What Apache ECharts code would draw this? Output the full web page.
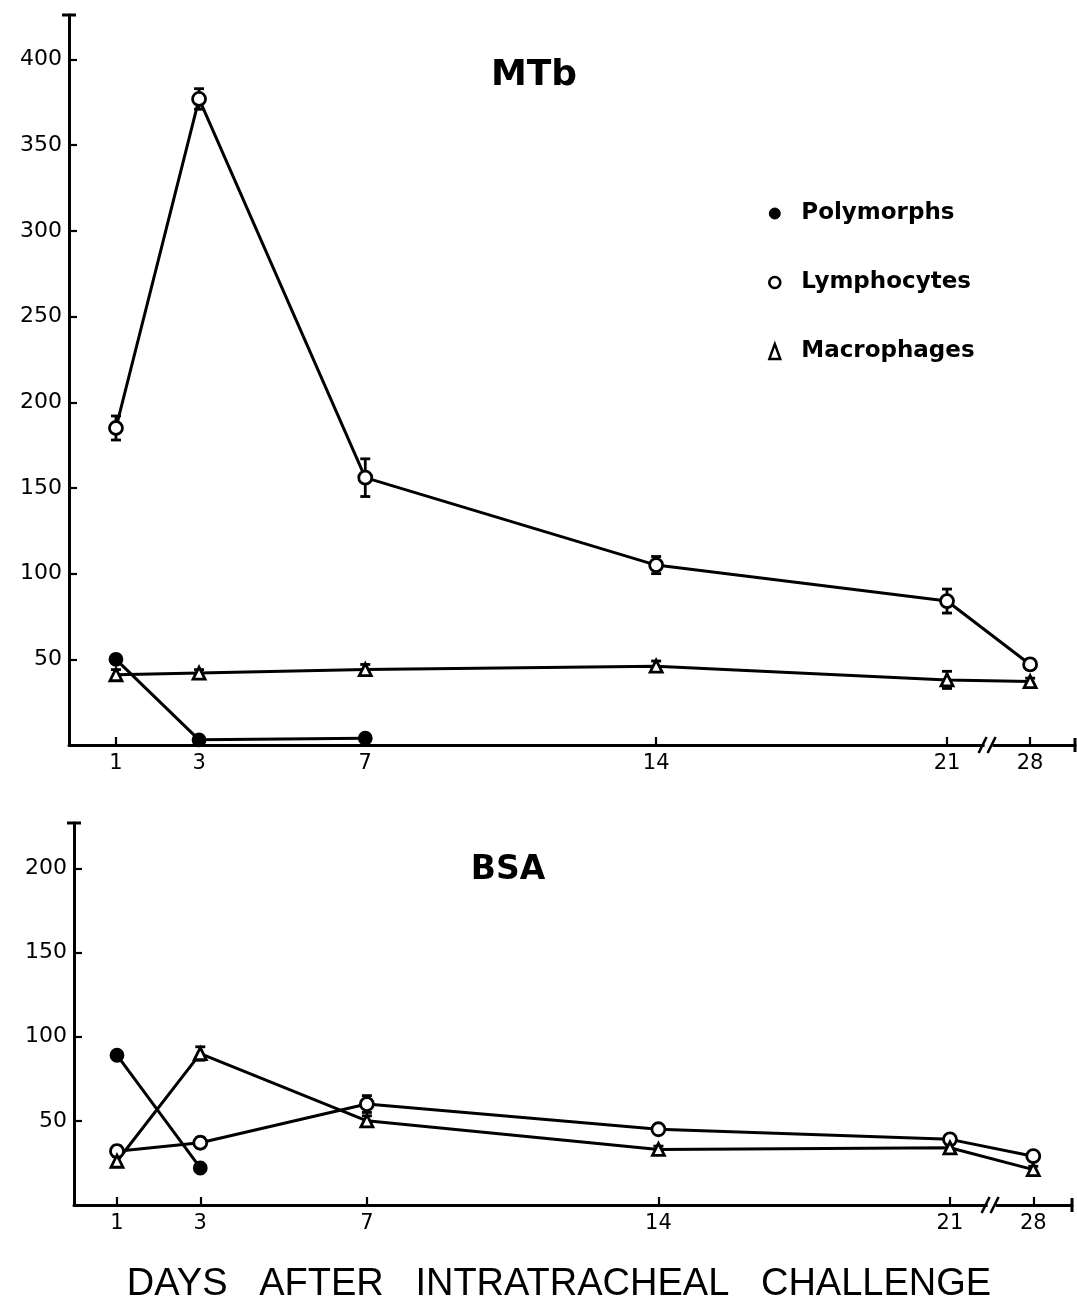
<!DOCTYPE html>
<html>
<head>
<meta charset="utf-8">
<script src="https://cdn.jsdelivr.net/npm/echarts@6/dist/echarts.min.js"></script>
<style>
  html, body { margin: 0; padding: 0; background: #fff; }
  #chart { width: 1077px; height: 1315px; }
</style>
</head>
<body>
<div id="chart"></div>
<script>
// Sampling days after challenge
const days = [1, 3, 7, 14, 21, 28];
const dayLabels = ['1', '3', '7', '14', '21', '28'];

// MTb challenge: cell counts per group (mean and error)
const mtbPolymorphs  = [50, 3, 4, null, null, null];
const mtbLymphocytes = [185, 377, 156, 105, 84, 47];
const mtbLymphErr    = [7, 6, 11, 5, 7, 3];
const mtbMacrophages = [41, 42, 44, 46, 38, 37];
const mtbMacroErr    = [3, 2, 3, 3, 5, 2];

// BSA challenge
const bsaPolymorphs  = [89, 22, null, null, null, null];
const bsaLymphocytes = [32, 37, 60, 45, 39, 29];
const bsaLymphErr    = [3, 3, 5, 2, 2, 2];
const bsaMacrophages = [26, 90, 50, 33, 34, 21];
const bsaMacroErr    = [3, 4, 3, 2, 2, 2];

// Y tick labels
const mtbTicks = [50, 100, 150, 200, 250, 300, 350, 400];
const bsaTicks = [50, 100, 150, 200];

const seriesNames = ['Polymorphs', 'Lymphocytes', 'Macrophages'];

// Broken time axis: the stretch after day 21 is compressed
const BREAK_DAY = 21;
const BREAK_SCALE = 2 / 7;
function axisPos(d) { return d <= BREAK_DAY ? d : BREAK_DAY + (d - BREAK_DAY) * BREAK_SCALE; }
const BREAK_MARK = BREAK_DAY + 1;   // where the "//" sits on the axis
const tickPos = days.map(axisPos);

function dayLabel(v) {
  const i = tickPos.findIndex(p => Math.abs(p - v) < 1e-6);
  return i < 0 ? '' : dayLabels[i];
}

const INK = '#000';
const LINE_W = 3;

function pts(values) {
  return days.map((d, i) => values[i] == null ? null : [axisPos(d), values[i]]).filter(Boolean);
}

function lineSeries(name, values, g, symbol, filled, size) {
  return {
    type: 'line', name, xAxisIndex: g, yAxisIndex: g,
    data: pts(values),
    symbol, symbolSize: size, showSymbol: true,
    itemStyle: { color: filled ? INK : '#fff', borderColor: INK, borderWidth: 2.8 },
    lineStyle: { color: INK, width: LINE_W },
    z: 4, animation: false
  };
}

function errorSeries(values, errs, g) {
  return {
    type: 'custom', xAxisIndex: g, yAxisIndex: g, z: 3, animation: false,
    encode: { x: 0, y: [1, 2] },
    data: days.map((d, i) => values[i] == null ? null : [axisPos(d), values[i] - errs[i], values[i] + errs[i]]).filter(Boolean),
    renderItem(params, api) {
      const x = api.value(0);
      const lo = api.coord([x, api.value(1)]);
      const hi = api.coord([x, api.value(2)]);
      const w = 5;
      const st = { stroke: INK, lineWidth: 2.8 };
      return {
        type: 'group',
        children: [
          { type: 'line', shape: { x1: lo[0], y1: lo[1], x2: hi[0], y2: hi[1] }, style: st },
          { type: 'line', shape: { x1: lo[0] - w, y1: lo[1], x2: lo[0] + w, y2: lo[1] }, style: st },
          { type: 'line', shape: { x1: hi[0] - w, y1: hi[1], x2: hi[0] + w, y2: hi[1] }, style: st }
        ]
      };
    }
  };
}

function breakSeries(g) {
  return {
    type: 'custom', xAxisIndex: g, yAxisIndex: g, z: 6, animation: false, clip: false,
    data: [[BREAK_MARK, 0]],
    renderItem(params, api) {
      const p = api.coord([api.value(0), api.value(1)]);
      const st = { stroke: INK, lineWidth: 2.6 };
      return {
        type: 'group',
        children: [
          { type: 'rect', shape: { x: p[0] - 4, y: p[1] - 3, width: 8, height: 6 }, style: { fill: '#fff' } },
          { type: 'line', shape: { x1: p[0] - 10, y1: p[1] + 8, x2: p[0] - 2, y2: p[1] - 8 }, style: st },
          { type: 'line', shape: { x1: p[0] - 1, y1: p[1] + 8, x2: p[0] + 7, y2: p[1] - 8 }, style: st }
        ]
      };
    }
  };
}

function xAxis(g, min, max) {
  return {
    type: 'value', gridIndex: g, min, max,
    axisLine: { show: true, onZero: false, lineStyle: { color: INK, width: LINE_W },
                symbol: ['none', 'rect'], symbolSize: [14, 3] },
    axisTick: { show: true, inside: true, length: 8, customValues: tickPos,
                lineStyle: { color: INK, width: 2.2 } },
    axisLabel: { show: true, customValues: tickPos, formatter: dayLabel, margin: 8,
                 color: INK, fontSize: 21, fontFamily: 'DejaVu Sans' },
    splitLine: { show: false }
  };
}

function yAxis(g, max, ticks) {
  return {
    type: 'value', gridIndex: g, min: 0, max,
    axisLine: { show: true, onZero: false, lineStyle: { color: INK, width: LINE_W },
                symbol: ['none', 'rect'], symbolSize: [14, 3] },
    axisTick: { show: true, inside: true, length: 8, customValues: ticks,
                lineStyle: { color: INK, width: 2.2 } },
    axisLabel: { show: true, customValues: ticks, margin: 7,
                 color: INK, fontSize: 22, fontFamily: 'DejaVu Sans' },
    splitLine: { show: false }
  };
}

const chart = echarts.init(document.getElementById('chart'), null, { renderer: 'canvas' });

chart.setOption({
  backgroundColor: '#fff',
  animation: false,
  grid: [
    { left: 69, top: 15, width: 1006, height: 730 },
    { left: 74, top: 823, width: 998, height: 382 }
  ],
  xAxis: [xAxis(0, -0.13, 24.08), xAxis(1, -0.032, 23.93)],
  yAxis: [yAxis(0, 426, mtbTicks), yAxis(1, 227, bsaTicks)],
  legend: {
    orient: 'vertical', left: 768, top: 202, padding: 0,
    itemWidth: 11, itemHeight: 15, itemGap: 46,
    formatter: n => '  ' + n,
    textStyle: { color: INK, fontSize: 23, fontWeight: 'bold', fontFamily: 'DejaVu Sans' },
    data: [
      { name: seriesNames[0], icon: 'circle', itemStyle: { color: INK, borderColor: INK, borderWidth: 1 } },
      { name: seriesNames[1], icon: 'circle', itemStyle: { color: '#fff', borderColor: INK, borderWidth: 2.6 } },
      { name: seriesNames[2], icon: 'triangle', itemStyle: { color: '#fff', borderColor: INK, borderWidth: 2.4 } }
    ]
  },
  graphic: [
    { type: 'text', x: 534, y: 76, style: { text: 'MTb', fill: INK, fontSize: 36, fontWeight: 'bold',
      fontFamily: 'DejaVu Sans', align: 'center', verticalAlign: 'middle' } },
    { type: 'text', x: 508, y: 870, style: { text: 'BSA', fill: INK, fontSize: 33, fontWeight: 'bold',
      fontFamily: 'DejaVu Sans', align: 'center', verticalAlign: 'middle' } },
    { type: 'text', x: 559, y: 1285, style: { text: 'DAYS   AFTER   INTRATRACHEAL   CHALLENGE', fill: INK,
      fontSize: 38, fontFamily: 'Liberation Sans', align: 'center', verticalAlign: 'middle' } }
  ],
  series: [
    errorSeries(mtbLymphocytes, mtbLymphErr, 0),
    errorSeries(mtbMacrophages, mtbMacroErr, 0),
    lineSeries(seriesNames[0], mtbPolymorphs, 0, 'circle', true, 12),
    lineSeries(seriesNames[1], mtbLymphocytes, 0, 'circle', false, 13),
    lineSeries(seriesNames[2], mtbMacrophages, 0, 'triangle', false, 12),
    breakSeries(0),

    errorSeries(bsaLymphocytes, bsaLymphErr, 1),
    errorSeries(bsaMacrophages, bsaMacroErr, 1),
    lineSeries(seriesNames[0], bsaPolymorphs, 1, 'circle', true, 12),
    lineSeries(seriesNames[1], bsaLymphocytes, 1, 'circle', false, 13),
    lineSeries(seriesNames[2], bsaMacrophages, 1, 'triangle', false, 12),
    breakSeries(1)
  ]
});
</script>
</body>
</html>
